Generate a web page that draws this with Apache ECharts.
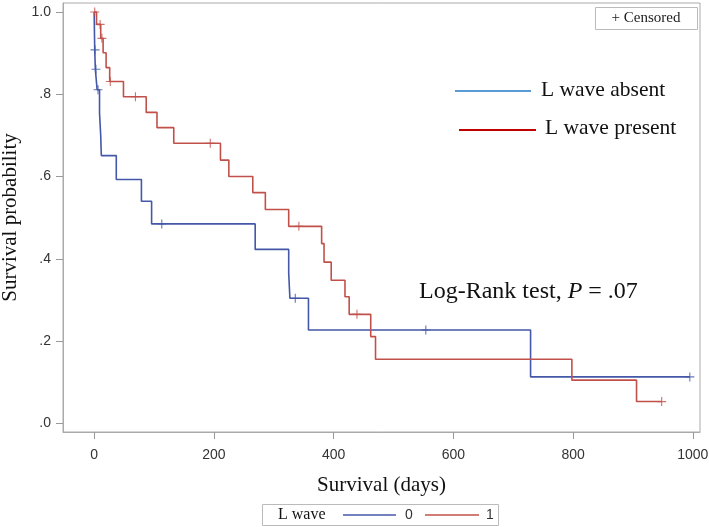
<!DOCTYPE html>
<html>
<head>
<meta charset="utf-8">
<script src="https://cdn.jsdelivr.net/npm/echarts/dist/echarts.min.js"></script>
<style>
html,body{margin:0;padding:0;background:#fff;}
#c{width:709px;height:527px;}
</style>
</head>
<body>
<div id="c"></div>
<script>
// Kaplan-Meier steps: [day, survival after event]
var absentSteps = [[0,1.0],[1,0.908],[2,0.861],[5,0.811],[9,0.755],[11,0.70],[12,0.651],[37,0.593],[79,0.540],[96,0.485],[269,0.423],[325,0.365],[327,0.304],[358,0.227],[729,0.113],[995,0.113]];
var presentSteps = [[0,1.0],[4,0.970],[11,0.936],[15,0.901],[20,0.865],[26,0.831],[49,0.794],[87,0.756],[105,0.719],[133,0.681],[211,0.640],[225,0.600],[265,0.561],[286,0.520],[325,0.479],[380,0.437],[384,0.392],[396,0.348],[419,0.308],[426,0.265],[462,0.211],[470,0.156],[798,0.105],[906,0.053],[948,0.053]];
// censored observations
var absentCensored = [[1.5,0.908],[3,0.861],[6.5,0.811],[113,0.485],[336,0.304],[554,0.227],[995,0.113]];
var presentCensored = [[1,1.0],[10,0.970],[13,0.936],[27,0.831],[69,0.794],[194,0.681],[342,0.479],[439,0.265],[948,0.053]];
// ticks
var xTickValues = [0,200,400,600,800,1000];
var yTickValues = [0,0.2,0.4,0.6,0.8,1.0];
var yTickLabels = ['.0','.2','.4','.6','.8','1.0'];

var BLUE = '#4457a8', RED = '#c2504a';
var plus = 'path://M3.5,0h1v3.5h3.5v1h-3.5v3.5h-1v-3.5h-3.5v-1h3.5z';
var serif = '"Liberation Serif","Times New Roman",serif';
var sans = '"Liberation Sans",Arial,sans-serif';

var chart = echarts.init(document.getElementById('c'), null, {renderer:'canvas'});
chart.setOption({
  animation:false,
  backgroundColor:'#fff',
  grid:{left:63,right:9,top:3,bottom:95,containLabel:false,outerBoundsMode:'none',show:true,borderColor:'#aaa',borderWidth:1,backgroundColor:'transparent'},
  xAxis:{
    type:'value',min:-52,max:1012,
    name:'Survival (days)',nameLocation:'middle',nameGap:43,
    nameTextStyle:{fontFamily:serif,fontSize:21,color:'#111'},
    axisLine:{show:true,onZero:false,lineStyle:{color:'#aaa'}},
    axisTick:{show:true,length:7,lineStyle:{color:'#999'},customValues:xTickValues},
    axisLabel:{margin:16,fontFamily:sans,fontSize:14,color:'#333',customValues:xTickValues,
      formatter:function(v){return String(v);}},
    splitLine:{show:false}
  },
  yAxis:{
    type:'value',min:-0.021,max:1.022,
    name:'Survival probability',nameLocation:'middle',nameGap:42,
    nameTextStyle:{fontFamily:serif,fontSize:21,color:'#111'},
    axisLine:{show:true,onZero:false,lineStyle:{color:'#aaa'}},
    axisTick:{show:true,length:7,lineStyle:{color:'#999'},customValues:yTickValues},
    axisLabel:{margin:12,fontFamily:sans,fontSize:14,color:'#333',customValues:yTickValues,
      formatter:function(v){var i=yTickValues.indexOf(v);return i>=0?yTickLabels[i]:'';}},
    splitLine:{show:false}
  },
  series:[
    {type:'line',step:'end',data:absentSteps,showSymbol:false,lineStyle:{color:BLUE,width:1.6},z:2},
    {type:'line',step:'end',data:presentSteps,showSymbol:false,lineStyle:{color:RED,width:1.6},z:2},
    {type:'scatter',data:absentCensored,symbol:plus,symbolSize:9,itemStyle:{color:BLUE},z:3},
    {type:'scatter',data:presentCensored,symbol:plus,symbolSize:9,itemStyle:{color:RED},z:3}
  ],
  graphic:[
    {type:'rect',shape:{x:595.5,y:7.5,width:102,height:22},style:{fill:'#fff',stroke:'#bbb',lineWidth:1},z:10},
    {type:'text',x:646,y:18.5,style:{text:'+ Censored',font:'15px '+serif,fill:'#222',align:'center',verticalAlign:'middle'},z:11},
    {type:'line',shape:{x1:455,y1:91,x2:531,y2:91},style:{stroke:'#5b9bd5',lineWidth:2},z:10},
    {type:'text',x:541,y:90,style:{text:'L wave absent',font:'21.5px '+serif,fill:'#111',align:'left',verticalAlign:'middle'},z:10},
    {type:'line',shape:{x1:459,y1:130,x2:536,y2:130},style:{stroke:'#c00000',lineWidth:2},z:10},
    {type:'text',x:545,y:128,style:{text:'L wave present',font:'21.5px '+serif,fill:'#111',align:'left',verticalAlign:'middle'},z:10},
    {type:'text',x:419,y:292,style:{
      text:'{a|Log-Rank test, }{b|P}{a| = .07}',
      rich:{a:{fontFamily:serif,fontSize:24,fill:'#111'},b:{fontFamily:serif,fontSize:24,fontStyle:'italic',fill:'#111'}},
      align:'left',verticalAlign:'middle'},z:10},
    {type:'rect',shape:{x:262.5,y:504.5,width:236,height:21},style:{fill:'#fff',stroke:'#bbb',lineWidth:1},z:10},
    {type:'text',x:278,y:515,style:{text:'L wave',font:'16px '+serif,fill:'#111',align:'left',verticalAlign:'middle'},z:11},
    {type:'line',shape:{x1:343,y1:515,x2:396,y2:515},style:{stroke:BLUE,lineWidth:1.5},z:11},
    {type:'text',x:409,y:515,style:{text:'0',font:'14px '+sans,fill:'#333',align:'center',verticalAlign:'middle'},z:11},
    {type:'line',shape:{x1:425,y1:515,x2:479,y2:515},style:{stroke:RED,lineWidth:1.5},z:11},
    {type:'text',x:490,y:515,style:{text:'1',font:'14px '+sans,fill:'#333',align:'center',verticalAlign:'middle'},z:11}
  ]
});
</script>
</body>
</html>
